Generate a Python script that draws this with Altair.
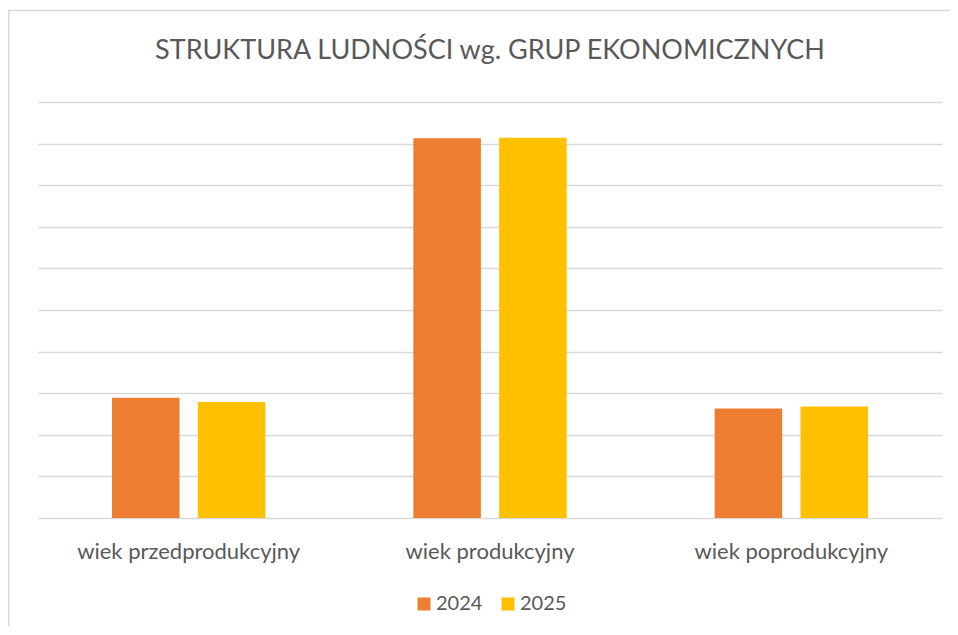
import altair as alt
import pandas as pd

categories = ["wiek przedprodukcyjny", "wiek produkcyjny", "wiek poprodukcyjny"]
years = ["2024", "2025"]
values_2024 = [2.89, 9.13, 2.63]
values_2025 = [2.79, 9.14, 2.68]
colors = ["#ED7D31", "#FFC000"]
grid_ticks = list(range(0, 11))
title_text = "STRUKTURA LUDNOŚCI wg. GRUP EKONOMICZNYCH"

rows = []
for c, a, b in zip(categories, values_2024, values_2025):
    rows.append({"grupa": c, "rok": years[0], "wartosc": a})
    rows.append({"grupa": c, "rok": years[1], "wartosc": b})
df = pd.DataFrame(rows)

TXT = "#595959"
GRID = "#D9D9D9"
FONT = "Lato"

bars = alt.Chart(df).mark_bar().encode(
    x=alt.X("grupa:N", sort=categories, title=None,
            scale=alt.Scale(paddingInner=0.491, paddingOuter=0.2455),
            axis=alt.Axis(labelAngle=0, labelFontSize=22, labelFont=FONT,
                          labelColor=TXT, labelPadding=23, ticks=False,
                          labelLimit=400,
                          domain=False, grid=False)),
    xOffset=alt.XOffset("rok:N", sort=years,
                        scale=alt.Scale(paddingInner=0.213, paddingOuter=0)),
    y=alt.Y("wartosc:Q", title=None,
            scale=alt.Scale(domain=[0, 10], nice=False),
            axis=alt.Axis(values=grid_ticks, labels=False, ticks=False,
                          domain=False, grid=True, gridColor=GRID,
                          gridWidth=1.4)),
    color=alt.Color("rok:N", sort=years,
                    scale=alt.Scale(domain=years, range=colors),
                    legend=alt.Legend(title=None, orient="none",
                                      direction="horizontal",
                                      legendX=376, legendY=492,
                                      symbolType="square", symbolSize=169,
                                      symbolStrokeWidth=0,
                                      labelFontSize=20, labelFont=FONT,
                                      labelColor=TXT, labelOffset=2,
                                      columnPadding=15, padding=0)),
)

border = alt.Chart(pd.DataFrame({"k": [0]})).mark_rect(
    fill=None, stroke=GRID, strokeWidth=1.5, clip=False
).encode(
    x=alt.value(-29.2), x2=alt.value(940),
    y=alt.value(-91.5), y2=alt.value(560),
)

title = alt.Chart(pd.DataFrame({"t": [title_text]})).mark_text(
    font=FONT, fontSize=27, color=TXT, align="center",
    baseline="alphabetic", clip=False
).encode(
    text="t:N", x=alt.value(452), y=alt.value(-43.5),
)

chart = alt.layer(border, bars, title).properties(
    width=904,
    height=416,
    padding={"left": 30, "top": 94, "right": 8, "bottom": 108},
    autosize=alt.AutoSizeParams(type="none"),
).configure(background="white").configure_view(stroke=None, strokeWidth=0)

chart.save("out.html", embed_options={"renderer": "svg", "actions": False})
